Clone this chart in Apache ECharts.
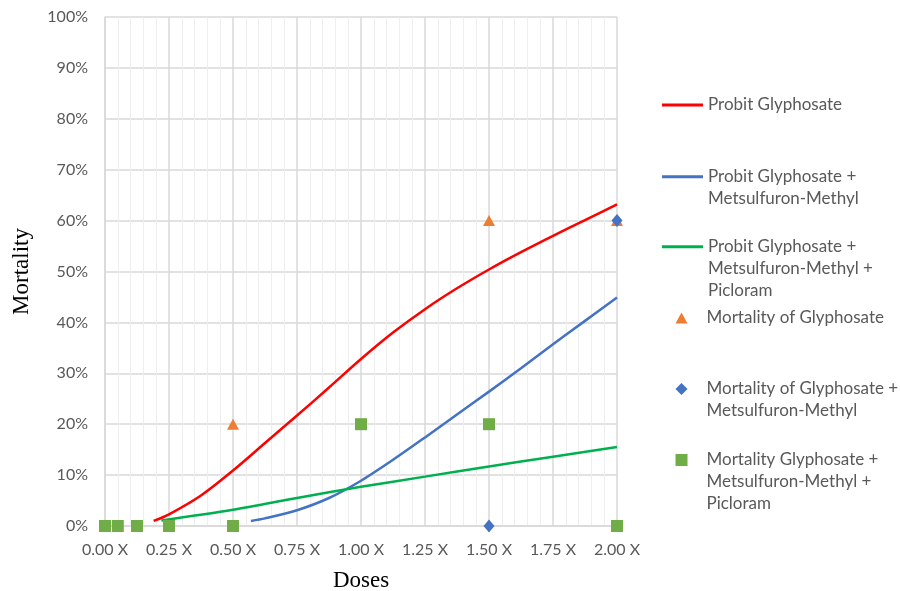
<!DOCTYPE html>
<html>
<head>
<meta charset="utf-8">
<script src="https://cdn.jsdelivr.net/npm/echarts@6/dist/echarts.min.js"></script>
<style>
  html, body { margin: 0; padding: 0; background: #ffffff; }
  #chart { width: 900px; height: 591px; }
</style>
</head>
<body>
<div id="chart"></div>
<script>
// Probit fit: Glyphosate
const probitGlyDose = [0.19, 0.25, 0.375, 0.5, 0.625, 0.75, 0.875, 1.0, 1.125, 1.25, 1.375, 1.5, 1.625, 1.75, 1.875, 2.0];
const probitGlyMort = [1.0, 2.3, 6.0, 10.9, 16.3, 21.7, 27.2, 32.8, 38.0, 42.6, 46.7, 50.4, 53.8, 57.0, 60.1, 63.2];

// Probit fit: Glyphosate + Metsulfuron-Methyl
const probitGlyMetDose = [0.57, 0.625, 0.75, 0.875, 1.0, 1.125, 1.25, 1.375, 1.5, 1.625, 1.75, 1.875, 2.0];
const probitGlyMetMort = [1.0, 1.5, 3.1, 5.5, 8.9, 13.0, 17.4, 21.9, 26.4, 31.0, 35.7, 40.3, 44.9];

// Probit fit: Glyphosate + Metsulfuron-Methyl + Picloram
const probitGlyMetPicDose = [0.22, 0.5, 0.75, 1.0, 1.25, 1.5, 1.75, 2.0];
const probitGlyMetPicMort = [1.1, 3.2, 5.5, 7.7, 9.7, 11.7, 13.6, 15.5];

// Observed mortality
const obsGlyDose = [0.5, 1.5, 2.0];
const obsGlyMort = [20, 60, 60];
const obsGlyMetDose = [1.5, 2.0];
const obsGlyMetMort = [0, 60];
const obsGlyMetPicDose = [0, 0.05, 0.125, 0.25, 0.5, 1.0, 1.5, 2.0];
const obsGlyMetPicMort = [0, 0, 0, 0, 0, 20, 20, 0];

// Axis ticks
const doseMin = 0, doseMax = 2, doseStep = 0.25;
const mortMin = 0, mortMax = 100, mortStep = 10;

const seriesNames = [
  'Probit Glyphosate',
  'Probit Glyphosate + Metsulfuron-Methyl',
  'Probit Glyphosate + Metsulfuron-Methyl + Picloram',
  'Mortality of Glyphosate',
  'Mortality of Glyphosate + Metsulfuron-Methyl',
  'Mortality Glyphosate + Metsulfuron-Methyl + Picloram'
];
const legendLabels = [
  ['Probit Glyphosate'],
  ['Probit Glyphosate +', 'Metsulfuron-Methyl'],
  ['Probit Glyphosate +', 'Metsulfuron-Methyl +', 'Picloram'],
  ['Mortality of Glyphosate'],
  ['Mortality of Glyphosate +', 'Metsulfuron-Methyl'],
  ['Mortality Glyphosate +', 'Metsulfuron-Methyl +', 'Picloram']
];
const colors = ['#ff0000', '#4472c4', '#00b050', '#ed7d31', '#4472c4', '#70ad47'];

const pairs = (xs, ys) => xs.map((x, i) => [x, ys[i]]);

const textGray = '#595959';
const uiFont = 'Lato, "Open Sans", sans-serif';
const serifFont = '"Liberation Serif", "DejaVu Serif", serif';
const LINE_H = 22;

// One legend block per series so each entry sits at its own row.
// Leading blank lines keep the icon level with the first text line.
const legendRows = [105, 176.7, 246.7, 318, 389, 460];
const legendIcons = ['rect', 'rect', 'rect', 'triangle', 'diamond', 'rect'];
const legends = seriesNames.map((name, i) => {
  const n = legendLabels[i].length;
  const isLine = i < 3;
  const blanks = new Array(n - 1).fill('\u00a0');
  return {
    data: [name],
    orient: 'horizontal',
    left: isLine ? 662 : 675.5,
    top: legendRows[i] - LINE_H * (2 * n - 1) / 2,
    padding: 0,
    selectedMode: false,
    icon: legendIcons[i],
    itemWidth: isLine ? 41 : 12,
    itemHeight: isLine ? 3 : (i === 3 ? 11 : 12),
    formatter: () => blanks.concat(legendLabels[i]).join('\n'),
    textStyle: {
      color: textGray,
      fontFamily: uiFont,
      fontSize: 17,
      lineHeight: LINE_H,
      padding: [0, 0, 0, isLine ? 0 : 14]
    }
  };
});

const lineSeries = (name, data, color) => ({
  name, type: 'line', data, smooth: 0.3,
  showSymbol: false, symbol: 'none',
  lineStyle: { color, width: 2.5 }, itemStyle: { color }, z: 2, animation: false
});
const scatterSeries = (name, data, color, symbol, size, z) => ({
  name, type: 'scatter', data, symbol, symbolSize: size,
  itemStyle: { color, opacity: 1 }, z, clip: false, animation: false
});

const chart = echarts.init(document.getElementById('chart'), null, { renderer: 'canvas' });
chart.setOption({
  backgroundColor: '#ffffff',
  animation: false,
  grid: { left: 105, right: 283, top: 17, bottom: 65, containLabel: false, outerBoundsMode: 'none' },
  legend: legends,
  xAxis: {
    type: 'value', min: doseMin, max: doseMax, interval: doseStep,
    name: 'Doses', nameLocation: 'middle', nameGap: 43,
    nameTextStyle: { fontFamily: serifFont, fontSize: 23, color: '#000000' },
    axisLine: { show: true, lineStyle: { color: '#d9d9d9', width: 1.5 } },
    axisTick: { show: false },
    axisLabel: {
      margin: 16, color: textGray, fontFamily: uiFont, fontSize: 16,
      formatter: v => v.toFixed(2) + ' X'
    },
    splitLine: { show: true, lineStyle: { color: '#d9d9d9', width: 1.5 } },
    minorTick: { show: false, splitNumber: 5 },
    minorSplitLine: { show: true, lineStyle: { color: '#eeeeee', width: 1 } }
  },
  yAxis: {
    type: 'value', min: mortMin, max: mortMax, interval: mortStep,
    name: 'Mortality', nameLocation: 'middle', nameGap: 72, nameRotate: 90,
    nameTextStyle: { fontFamily: serifFont, fontSize: 23, color: '#000000' },
    axisLine: { show: true, lineStyle: { color: '#d9d9d9', width: 1.5 } },
    axisTick: { show: false },
    axisLabel: {
      margin: 17, color: textGray, fontFamily: uiFont, fontSize: 16,
      formatter: '{value}%'
    },
    splitLine: { show: true, lineStyle: { color: '#d9d9d9', width: 1.5 } }
  },
  series: [
    lineSeries(seriesNames[0], pairs(probitGlyDose, probitGlyMort), colors[0]),
    lineSeries(seriesNames[1], pairs(probitGlyMetDose, probitGlyMetMort), colors[1]),
    lineSeries(seriesNames[2], pairs(probitGlyMetPicDose, probitGlyMetPicMort), colors[2]),
    scatterSeries(seriesNames[3], pairs(obsGlyDose, obsGlyMort), colors[3], 'triangle', [12, 11], 3),
    scatterSeries(seriesNames[4], pairs(obsGlyMetDose, obsGlyMetMort), colors[4], 'diamond', [11, 13], 4),
    scatterSeries(seriesNames[5], pairs(obsGlyMetPicDose, obsGlyMetPicMort), colors[5], 'rect', [12, 12], 5)
  ]
});
</script>
</body>
</html>
